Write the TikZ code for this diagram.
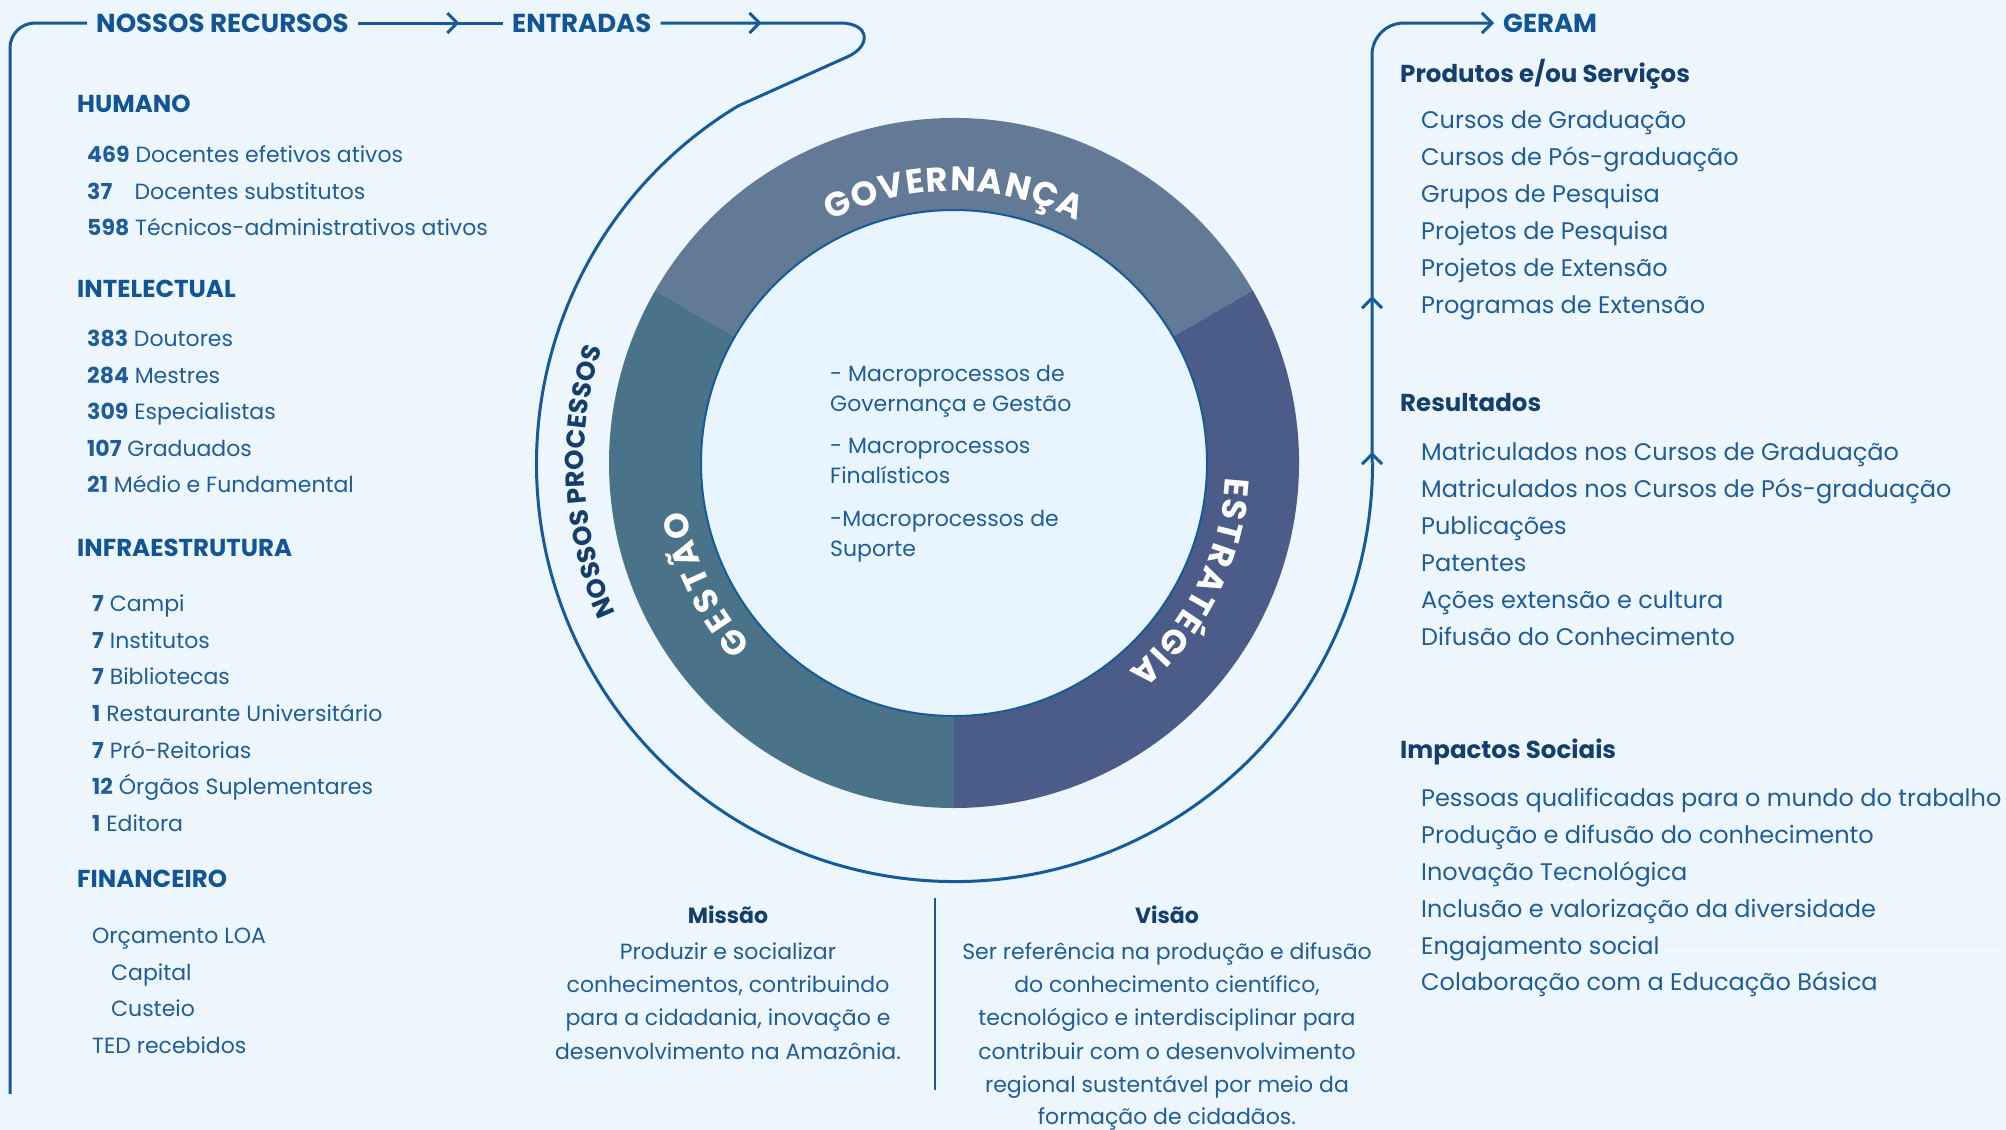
\documentclass[tikz,border=0pt]{standalone}
\usepackage{fontspec}
\setmainfont{Poppins}
\usetikzlibrary{arrows.meta,decorations.markings,decorations.text}

\definecolor{bgcol}{HTML}{EEF6FD}
\definecolor{corecol}{HTML}{E8F5FE}
\definecolor{lineblue}{HTML}{155B9B}
\definecolor{headblue}{HTML}{115596}
\definecolor{navy}{HTML}{143F6C}
\definecolor{textblue}{HTML}{1F5D9A}
\definecolor{govcol}{HTML}{637A96}
\definecolor{gescol}{HTML}{4A7288}
\definecolor{estcol}{HTML}{4A5C87}

\begin{document}
\begin{tikzpicture}
[x=1pt, y=1pt,
flow/.style={draw=lineblue, line width=3pt},
midarrow/.style={postaction={decorate, decoration={markings,
  mark=at position #1 with {\arrow{Straight Barb[length=10pt,width=20pt]}}}}},
toplabel/.style={font=\bfseries\fontsize{26}{26}\selectfont, text=headblue, inner xsep=9pt, inner ysep=0pt, anchor=west},
group/.style={font=\bfseries\fontsize{24.5}{24.5}\selectfont, text=headblue, inner sep=0pt, anchor=base west},
item/.style={font=\fontsize{22}{22}\selectfont, text=textblue, inner sep=0pt, anchor=base west},
outhead/.style={font=\bfseries\fontsize{24.5}{24.5}\selectfont, text=navy, inner sep=0pt, anchor=base west},
outitem/.style={font=\fontsize{24}{24}\selectfont, text=textblue, inner sep=0pt, anchor=base west},
core/.style={font=\fontsize{22}{22}\selectfont, text=textblue, inner sep=0pt, anchor=base west},
stmthead/.style={font=\bfseries\fontsize{22}{22}\selectfont, text=navy, inner sep=0pt, anchor=base},
stmt/.style={font=\fontsize{22}{22}\selectfont, text=textblue, inner sep=0pt, anchor=base},
ringlabel/.style={decorate, decoration={text along path, text align=fit to path, text color=white,
  text={|\bfseries\fontsize{34}{34}\selectfont|#1}}}]
\useasboundingbox (0,0) rectangle (2006,-1130);
\fill[bgcol] (0,0) rectangle (2006,-1130);

% ring
\begin{scope}[shift={(954,-463)}]
\fill[govcol] (150:345) arc[start angle=150, end angle=30, radius=345] -- (30:253) arc[start angle=30, end angle=150, radius=253] -- cycle;
\fill[gescol] (270:345) arc[start angle=270, end angle=150, radius=345] -- (150:253) arc[start angle=150, end angle=270, radius=253] -- cycle;
\fill[estcol] (30:345) arc[start angle=30, end angle=-90, radius=345] -- (-90:253) arc[start angle=-90, end angle=30, radius=253] -- cycle;
\filldraw[fill=corecol, draw=lineblue, line width=2pt] (0,0) circle[radius=253];
\path[ringlabel=GOVERNANÇA] (117:272) arc[start angle=117, end angle=63, radius=272];
\path[ringlabel=ESTRATÉGIA] (-3:272) arc[start angle=-3, end angle=-50, radius=272];
\path[ringlabel=GESTÃO] (222:272) arc[start angle=222, end angle=190, radius=272];
\path[decorate, decoration={text along path, text align=fit to path, text color=navy,
  text={|\bfseries\fontsize{26}{26}\selectfont|NOSSOS PROCESSOS}}] (204:370) arc[start angle=204, end angle=162, radius=370];
\end{scope}

% top labels and flow line
\node[toplabel] (recursos) at (87,-23) {NOSSOS RECURSOS};
\node[toplabel] (entradas) at (503,-23) {ENTRADAS};
\node[toplabel] (geram) at (1494,-23) {GERAM};
\coordinate (arcend) at (1372,-463);
\draw[flow, rounded corners=25] (10,-1094) |- (recursos.west);
\draw[flow, midarrow=0.7] (recursos.east) -- (entradas.west);
\draw[flow, midarrow=101pt] (entradas.east) -- (840,-23) .. controls (870,-23) and (872,-46) .. (847,-57) -- (738,-106)
  arc[start angle=121.2, end angle=360, radius=418] -- (arcend);
\draw[flow, rounded corners=32, -{Straight Barb[length=10pt,width=20pt]},
  postaction={decorate, decoration={markings,
  mark=at position 11pt with {\arrow{Straight Barb[length=10pt,width=20pt]}},
  mark=at position 167pt with {\arrow{Straight Barb[length=10pt,width=20pt]}}}}]
  (arcend) -- (1372,-23) -- (geram.west);

% recursos
\node[group] (humano) at (77,-112) {HUMANO};
\node[item] (doc) at (87,-162) {\textbf{469} Docentes efetivos ativos};
\node[item] (subst) at (87,-199) {\textbf{37\hphantom{9}}\hspace{3pt} Docentes substitutos};
\node[item] (tec) at (87,-235) {\textbf{598} Técnicos-administrativos ativos};
\node[group] (intelectual) at (77,-297) {INTELECTUAL};
\node[item] (dout) at (87,-346) {\textbf{383} Doutores};
\node[item] (mest) at (87,-383) {\textbf{284} Mestres};
\node[item] (espec) at (87,-419) {\textbf{309} Especialistas};
\node[item] (grad) at (87,-456) {\textbf{107} Graduados};
\node[item] (medio) at (87,-492) {\textbf{21} Médio e Fundamental};
\node[group] (infra) at (77,-556) {INFRAESTRUTURA};
\node[item] (campi) at (92,-611) {\textbf{7} Campi};
\node[item] (inst) at (92,-648) {\textbf{7} Institutos};
\node[item] (bibl) at (92,-684) {\textbf{7} Bibliotecas};
\node[item] (rest) at (92,-721) {\textbf{1} Restaurante Universitário};
\node[item] (prore) at (92,-758) {\textbf{7} Pró-Reitorias};
\node[item] (orgaos) at (92,-794) {\textbf{12} Órgãos Suplementares};
\node[item] (editora) at (92,-831) {\textbf{1} Editora};
\node[group] (financeiro) at (77,-887) {FINANCEIRO};
\node[item] (loa) at (92,-943) {Orçamento LOA};
\node[item] (capital) at (111,-980) {Capital};
\node[item] (custeio) at (111,-1016) {Custeio};
\node[item] (ted) at (92,-1053) {TED recebidos};

% processos
\node[core] (macro1) at (830,-381) {- Macroprocessos de};
\node[core] (macro1b) at (830,-411) {Governança e Gestão};
\node[core] (macro2) at (830,-453) {- Macroprocessos};
\node[core] (macro2b) at (830,-483) {Finalísticos};
\node[core] (macro3) at (830,-526) {-Macroprocessos de};
\node[core] (macro3b) at (830,-556) {Suporte};

% geram
\node[outhead] (produtos) at (1400,-82) {Produtos e/ou Serviços};
\node[outitem] (p1) at (1421,-128) {Cursos de Graduação};
\node[outitem] (p2) at (1421,-165) {Cursos de Pós-graduação};
\node[outitem] (p3) at (1421,-202) {Grupos de Pesquisa};
\node[outitem] (p4) at (1421,-239) {Projetos de Pesquisa};
\node[outitem] (p5) at (1421,-276) {Projetos de Extensão};
\node[outitem] (p6) at (1421,-313) {Programas de Extensão};
\node[outhead] (resultados) at (1400,-411) {Resultados};
\node[outitem] (r1) at (1421,-460) {Matriculados nos Cursos de Graduação};
\node[outitem] (r2) at (1421,-497) {Matriculados nos Cursos de Pós-graduação};
\node[outitem] (r3) at (1421,-534) {Publicações};
\node[outitem] (r4) at (1421,-571) {Patentes};
\node[outitem] (r5) at (1421,-608) {Ações extensão e cultura};
\node[outitem] (r6) at (1421,-645) {Difusão do Conhecimento};
\node[outhead] (impactos) at (1400,-758) {Impactos Sociais};
\draw[draw=gray!18, dash pattern=on 4pt off 4pt, line width=1pt] (1405,-944) -- (2006,-944);
\node[outitem] (i1) at (1421,-806) {Pessoas qualificadas para o mundo do trabalho};
\node[outitem] (i2) at (1421,-843) {Produção e difusão do conhecimento};
\node[outitem] (i3) at (1421,-880) {Inovação Tecnológica};
\node[outitem] (i4) at (1421,-917) {Inclusão e valorização da diversidade};
\node[outitem] (i5) at (1421,-954) {Engajamento social};
\node[outitem] (i6) at (1421,-990) {Colaboração com a Educação Básica};

% missao e visao
\draw[lineblue, line width=2pt] (935,-898) -- (935,-1090);
\node[stmthead] (missao) at (728,-923) {Missão};
\node[stmt] (m1) at (728,-959) {Produzir e socializar};
\node[stmt] (m2) at (728,-992) {conhecimentos, contribuindo};
\node[stmt] (m3) at (728,-1025) {para a cidadania, inovação e};
\node[stmt] (m4) at (728,-1059) {desenvolvimento na Amazônia.};
\node[stmthead] (visao) at (1167,-923) {Visão};
\node[stmt] (v1) at (1167,-959) {Ser referência na produção e difusão};
\node[stmt] (v2) at (1167,-992) {do conhecimento científico,};
\node[stmt] (v3) at (1167,-1025) {tecnológico e interdisciplinar para};
\node[stmt] (v4) at (1167,-1059) {contribuir com o desenvolvimento};
\node[stmt] (v5) at (1167,-1092) {regional sustentável por meio da};
\node[stmt] (v6) at (1167,-1124) {formação de cidadãos.};
\end{tikzpicture}
\end{document}
